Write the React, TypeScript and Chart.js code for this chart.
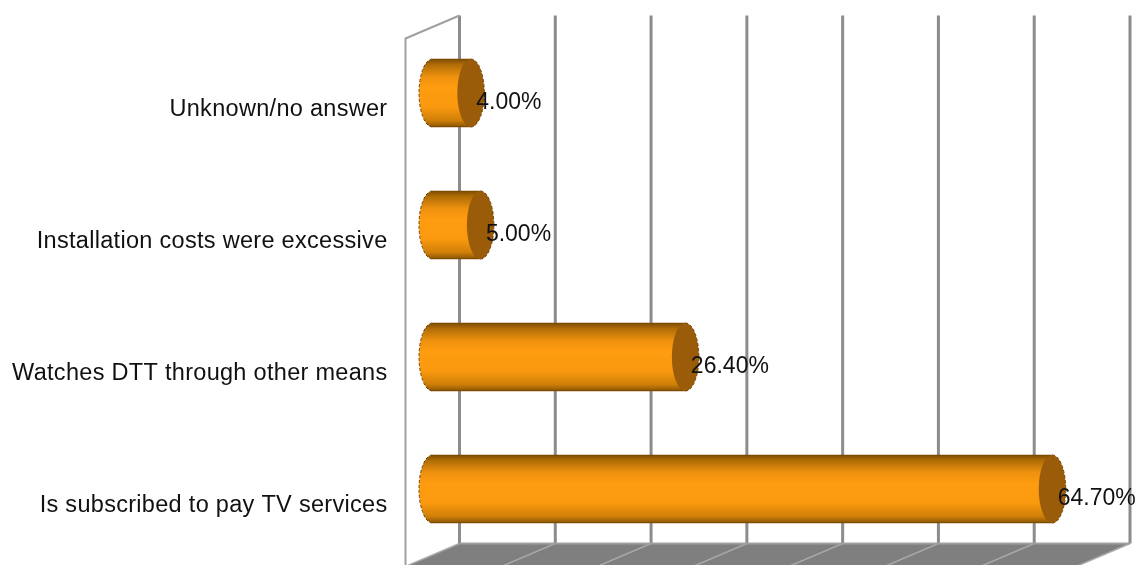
import React, { useEffect, useRef } from "react";
import { Chart, registerables } from "chart.js";

Chart.register(...registerables);

const categories = [
  "Unknown/no answer",
  "Installation costs were excessive",
  "Watches DTT through other means",
  "Is subscribed to pay TV services",
];
const shares = [4.0, 5.0, 26.4, 64.7];

const FONT = '"Liberation Sans", Arial, sans-serif';
const TEXT_COLOR = "#111111";
const DEPTH_X = 27;
const DEPTH_Y = 11.5;
const CAP_RX = 13.5;
const BAR_HALF = 34;

function cylinderFill(ctx: CanvasRenderingContext2D, yc: number, half: number) {
  const g = ctx.createLinearGradient(0, yc - half, 0, yc + half);
  g.addColorStop(0, "#7d4c02");
  g.addColorStop(0.08, "#b06c06");
  g.addColorStop(0.26, "#ee910e");
  g.addColorStop(0.42, "#ff9c10");
  g.addColorStop(0.7, "#fb9a0f");
  g.addColorStop(0.9, "#d08008");
  g.addColorStop(1, "#8a5403");
  return g;
}

// Box walls and floor of the 3D plot, placed behind the cylinders
const wallsPlugin = {
  id: "walls",
  beforeDraw(chart: any) {
    chart.ctx.letterSpacing = "0.3px";
  },
  beforeDatasetsDraw(chart: any) {
    const { ctx, chartArea, scales } = chart;
    const { top, bottom } = chartArea;
    const backTop = top - DEPTH_Y;
    const backBottom = bottom - DEPTH_Y;
    const ticks = scales.x.ticks.map((t: any) => scales.x.getPixelForValue(t.value) + DEPTH_X);
    const firstX = ticks[0];
    const lastX = ticks[ticks.length - 1];
    ctx.save();

    ctx.fillStyle = "#7f7f7f";
    ctx.beginPath();
    ctx.moveTo(firstX, backBottom);
    ctx.lineTo(lastX, backBottom);
    ctx.lineTo(lastX - 2 * DEPTH_X, backBottom + 2 * DEPTH_Y);
    ctx.lineTo(firstX - 2 * DEPTH_X, backBottom + 2 * DEPTH_Y);
    ctx.closePath();
    ctx.fill();

    ctx.strokeStyle = "#a8a8a8";
    ctx.lineWidth = 1.5;
    ticks.forEach((x: number) => {
      ctx.beginPath();
      ctx.moveTo(x, backBottom);
      ctx.lineTo(x - 2 * DEPTH_X, backBottom + 2 * DEPTH_Y);
      ctx.stroke();
    });

    ctx.strokeStyle = "#8c8c8c";
    ctx.lineWidth = 3;
    ticks.forEach((x: number) => {
      ctx.beginPath();
      ctx.moveTo(x, backTop);
      ctx.lineTo(x, backBottom);
      ctx.stroke();
    });

    ctx.strokeStyle = "#a0a0a0";
    ctx.lineWidth = 2;
    ctx.beginPath();
    ctx.moveTo(firstX - 2 * DEPTH_X, backBottom + 2 * DEPTH_Y);
    ctx.lineTo(firstX - 2 * DEPTH_X, backTop + 2 * DEPTH_Y);
    ctx.lineTo(firstX, backTop);
    ctx.stroke();
    ctx.beginPath();
    ctx.moveTo(firstX, backBottom);
    ctx.lineTo(lastX, backBottom);
    ctx.stroke();
    ctx.restore();
  },
  afterDatasetsDraw(chart: any) {
    const { ctx } = chart;
    const meta = chart.getDatasetMeta(0);
    ctx.save();
    meta.data.forEach((bar: any, i: number) => {
      const yc = bar.y;
      const x0 = bar.base;
      const x1 = bar.x;

      // rounded far end of the tube, overlapping the body to hide the seam
      ctx.fillStyle = cylinderFill(ctx, yc, BAR_HALF);
      ctx.beginPath();
      ctx.ellipse(x0, yc, CAP_RX, BAR_HALF, 0, Math.PI / 2, (3 * Math.PI) / 2);
      ctx.lineTo(x0 + 2, yc - BAR_HALF);
      ctx.lineTo(x0 + 2, yc + BAR_HALF);
      ctx.closePath();
      ctx.fill();
      ctx.strokeStyle = "#6e4302";
      ctx.lineWidth = 1;
      ctx.setLineDash([3, 2]);
      ctx.beginPath();
      ctx.ellipse(x0, yc, CAP_RX, BAR_HALF, 0, Math.PI / 2, (3 * Math.PI) / 2);
      ctx.stroke();
      ctx.setLineDash([]);

      // top and bottom edge lines
      ctx.strokeStyle = "#7a4a02";
      ctx.beginPath();
      ctx.moveTo(x0, yc - BAR_HALF + 0.5);
      ctx.lineTo(x1, yc - BAR_HALF + 0.5);
      ctx.moveTo(x0, yc + BAR_HALF - 0.5);
      ctx.lineTo(x1, yc + BAR_HALF - 0.5);
      ctx.stroke();

      // flat end cap
      ctx.fillStyle = "#9a5c08";
      ctx.beginPath();
      ctx.ellipse(x1, yc, CAP_RX, BAR_HALF, 0, 0, Math.PI * 2);
      ctx.fill();
      ctx.strokeStyle = "#6e4302";
      ctx.setLineDash([3, 2]);
      ctx.beginPath();
      ctx.ellipse(x1, yc, CAP_RX, BAR_HALF, 0, -Math.PI / 2, Math.PI / 2);
      ctx.stroke();
      ctx.setLineDash([]);

      // value label
      ctx.letterSpacing = "0px";
      ctx.fillStyle = TEXT_COLOR;
      ctx.font = `23px ${FONT}`;
      ctx.textAlign = "left";
      ctx.textBaseline = "middle";
      ctx.fillText(`${shares[i].toFixed(2)}%`, x1 + 5.5, yc + 10);
    });
    ctx.restore();
  },
};

export default function App() {
  const ref = useRef<HTMLCanvasElement>(null);

  useEffect(() => {
    const chart = new Chart(ref.current!, {
      type: "bar",
      data: {
        labels: categories,
        datasets: [
          {
            data: shares,
            barThickness: BAR_HALF * 2,
            borderWidth: 0,
            backgroundColor: (c: any) => {
              const yc = c.chart.scales.y?.getPixelForValue(c.dataIndex);
              if (!Number.isFinite(yc)) return "#ff9c10";
              return cylinderFill(c.chart.ctx, yc, BAR_HALF);
            },
          },
        ],
      },
      options: {
        indexAxis: "y",
        responsive: false,
        animation: false,
        layout: { padding: { top: 27, bottom: 10, left: 0, right: 36 } },
        plugins: { legend: { display: false }, tooltip: { enabled: false } },
        scales: {
          x: {
            min: 0,
            max: 70,
            afterFit: (s: any) => {
              s.height = 0;
              s.paddingLeft = 0;
              s.paddingRight = 0;
            },
            ticks: { display: false, stepSize: 10 },
            grid: { display: false },
            border: { display: false },
          },
          y: {
            afterFit: (s: any) => {
              s.width = 432.5;
              s.paddingTop = 0;
              s.paddingBottom = 0;
            },
            ticks: {
              color: TEXT_COLOR,
              padding: 45,
              labelOffset: 16.5,
              autoSkip: false,
              font: { family: FONT, size: 23.5 },
            },
            grid: { display: false, drawTicks: false },
            border: { display: false },
          },
        },
      },
      plugins: [wallsPlugin],
    } as any);
    return () => chart.destroy();
  }, []);

  return (
    <canvas
      ref={ref}
      width={1139}
      height={565}
      style={{ position: "absolute", left: 0, top: 0, width: 1139, height: 565 }}
    />
  );
}
